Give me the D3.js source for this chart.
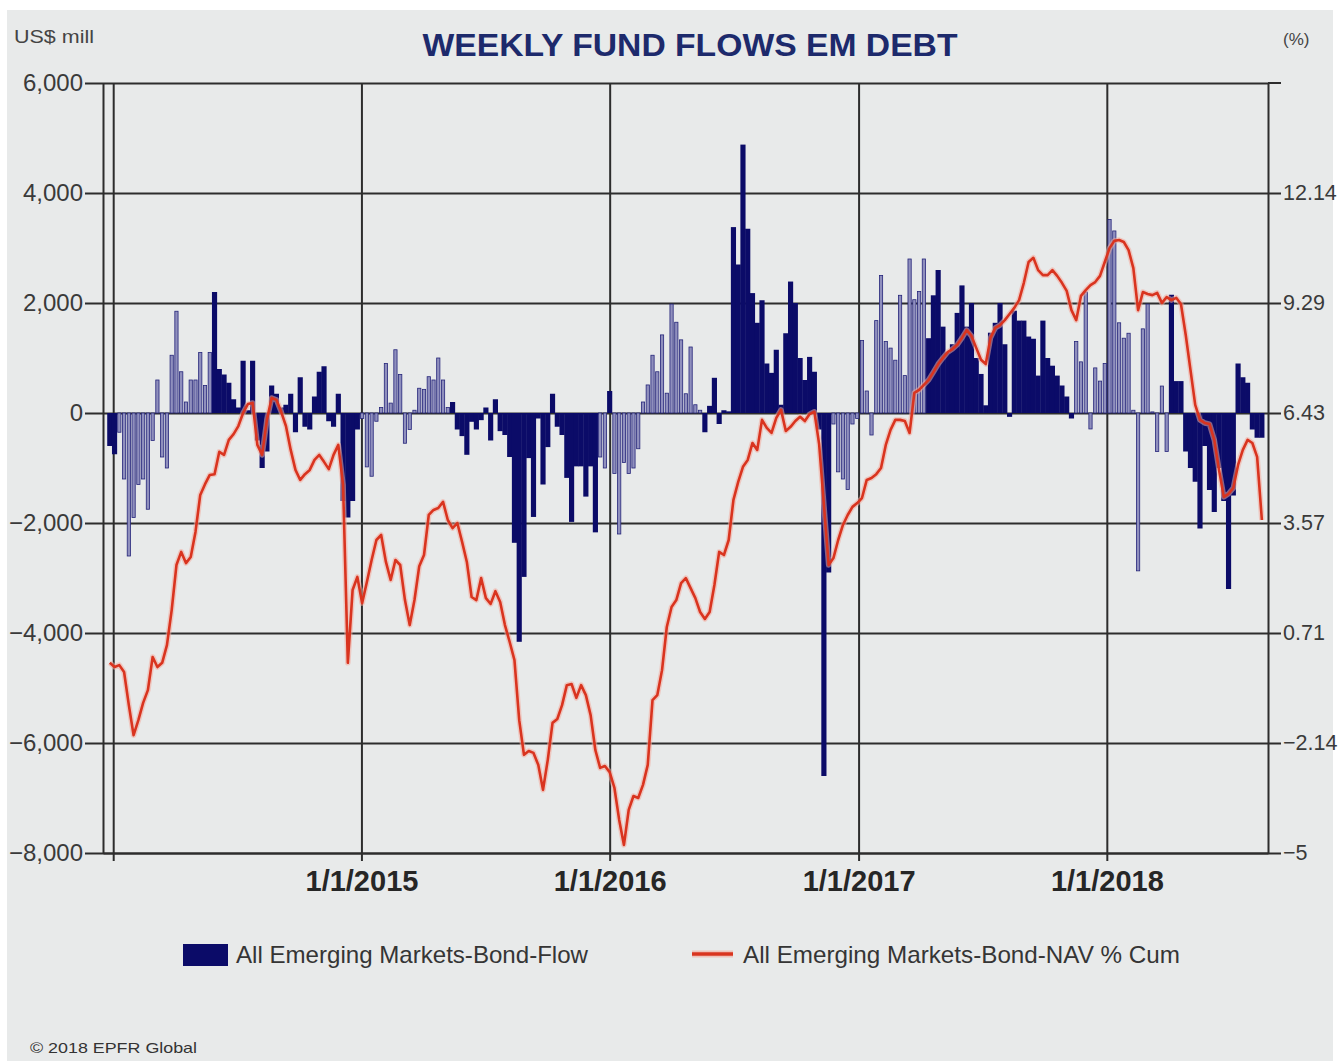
<!DOCTYPE html>
<html><head><meta charset="utf-8">
<script src="https://cdn.jsdelivr.net/npm/d3@7"></script>
<style>
html,body{margin:0;padding:0;background:#fff;}
svg{display:block;}
text{font-family:"Liberation Sans",Arial,sans-serif;}
</style></head>
<body>
<svg id="chart" width="1340" height="1061"></svg>
<script>
// ---------- DATA ----------
const startDate = "2013-12-27";           // first weekly observation
const flows = [  // US$ mill, weekly
 -600,-750,-350,-1200,-2600,-1900,-1300,-1200,-1750,-500,
 600,-800,-1000,1050,1850,750,200,600,600,1100,
 500,1100,2200,800,700,550,250,100,950,50,
 950,-500,-1000,-700,500,350,100,150,350,-350,
 650,-250,-300,300,750,850,-150,-250,350,-1600,
 -1900,-1600,-300,-100,
 -980,-1150,-150,100,900,180,1150,700,-550,-300,
 50,450,430,660,600,1000,600,100,200,-300,
 -420,-760,-160,-300,-130,100,-500,250,-330,-400,
 -800,-2360,-4160,-2980,-820,-1890,-100,-1300,-620,350,
 -250,-400,-1180,-1980,-970,-970,-1520,-970,-2170,-800,
 -1000,400,
 -1100,-2200,-900,-1100,-1000,-650,200,510,1050,750,
 1420,360,1980,1650,1330,350,1200,150,50,-350,
 130,640,-200,50,30,3380,2700,4880,3350,2180,
 1640,2050,900,730,1150,150,1450,2390,2000,1000,
 600,1020,750,-300,-6600,-2900,-200,-1070,-1200,-1390,
 -200,-100,
 1320,400,-400,1680,2500,1300,1180,960,2140,680,
 2800,2060,2210,2800,1360,2140,2600,1570,1100,1250,
 1820,2320,1570,2000,1000,710,140,1460,1640,2000,
 1250,-70,1860,1680,1680,1390,1350,680,1680,1000,
 860,680,500,300,-100,
 1300,930,2200,-290,820,580,900,3520,3310,1640,
 1360,1450,50,-2870,1530,1980,20,-700,490,-700,
 2150,580,580,-700,-1000,-1250,-2100,-600,-1400,-1800,
 -1000,-1600,-3200,-1500,900,650,550,-300,-450,-450
];
const nav = [  // NAV % cumulative, weekly
 -0.06,-0.17,-0.12,-0.30,-1.16,-1.94,-1.55,-1.10,-0.77,0.09,
 -0.17,-0.06,0.40,1.31,2.48,2.82,2.53,2.69,3.34,4.30,
 4.58,4.82,4.84,5.42,5.34,5.73,5.88,6.09,6.43,6.66,
 6.69,5.60,5.34,6.25,6.82,6.77,6.46,6.09,5.47,4.95,
 4.69,4.84,4.95,5.21,5.34,5.16,4.97,5.34,5.60,4.56,
 -0.06,1.83,2.17,1.49,2.04,2.61,3.13,3.26,2.56,2.09,
 2.61,2.48,1.57,0.92,1.57,2.45,2.74,3.78,3.91,3.96,
 4.12,3.65,3.44,3.57,3.08,2.56,1.65,1.57,2.14,1.62,
 1.47,1.80,1.52,0.92,0.48,0.01,-1.55,-2.45,-2.35,-2.40,
 -2.71,-3.36,-2.58,-1.62,-1.52,-1.16,-0.64,-0.61,-0.97,-0.64,
 -0.90,-1.42,-2.33,-2.79,-2.74,-2.90,-3.31,-4.14,-4.79,-3.88,
 -3.52,-3.57,-3.23,-2.71,-1.03,-0.90,-0.25,0.87,1.39,1.57,
 2.01,2.14,1.88,1.62,1.26,1.08,1.26,1.96,2.82,2.74,
 3.13,4.17,4.64,5.03,5.21,5.65,5.47,6.25,6.04,5.91,
 6.30,6.51,5.96,6.07,6.22,6.33,6.22,6.40,6.46,5.62,
 4.04,2.48,2.66,3.13,3.52,3.78,3.99,4.09,4.22,4.69,
 4.74,4.84,5.00,5.60,5.99,6.25,6.25,6.22,5.91,6.95,
 7.03,7.16,7.29,7.49,7.70,7.86,8.01,8.09,8.20,8.38,
 8.58,8.43,8.12,7.81,7.70,8.38,8.64,8.71,8.84,9.00,
 9.16,9.36,9.81,10.35,10.46,10.14,10.01,10.01,10.14,9.99,
 9.81,9.60,9.10,8.84,9.47,9.62,9.75,9.83,9.99,10.35,
 10.71,10.90,10.92,10.87,10.66,10.19,9.10,9.57,9.52,9.49,
 9.55,9.29,9.44,9.36,9.42,9.26,8.46,7.55,6.64,6.25,
 6.17,6.14,5.73,4.95,4.25,4.33,4.48,5.08,5.47,5.73,
 5.65,5.29,3.65
];
const leftTicks = [-8000,-6000,-4000,-2000,0,2000,4000,6000];
const rightTicks = [-5,-2.142857,0.714286,3.571429,6.428571,9.285714,12.142857];
const yearTicks = ["2014-01-01","2015-01-01","2016-01-01","2017-01-01","2018-01-01"];
const yearLabels = ["","1/1/2015","1/1/2016","1/1/2017","1/1/2018"];
const xDomain = ["2013-12-17","2018-08-26"];
const seriesNames = ["All Emerging Markets-Bond-Flow","All Emerging Markets-Bond-NAV % Cum"];
// weeks rendered in the paler (aliased) tone of the original image
const paleWeeks = [[2,21],[53,71],[103,104],[106,124],[152,171],[203,222]];

// ---------- CHART ----------
const NAVY = "#0b0b68", RED = "#d9341f", GRID = "#2d2d2d", BG = "#e8eaea";
const svg = d3.select("#chart");
svg.append("defs").append("clipPath").attr("id","panel")
  .append("rect").attr("x",7).attr("y",10).attr("width",1326).attr("height",1051);
const root = svg.append("g").attr("clip-path","url(#panel)");
root.append("rect").attr("x",7).attr("y",10).attr("width",1326).attr("height",1051).attr("fill",BG);

const L = 103, R = 1268, T = 83, B = 853;
const parse = d3.utcParse("%Y-%m-%d");
const t0 = parse(startDate);
const weeks = flows.map((v,i) => d3.utcDay.offset(t0, 7*i));
const x = d3.scaleUtc().domain(xDomain.map(parse)).range([L,R]);
const yL = d3.scaleLinear().domain([-8000,6000]).range([B,T]);
const yR = d3.scaleLinear().domain([-5,15]).range([B,T]);
const step = x(weeks[1]) - x(weeks[0]);
const isPale = i => paleWeeks.some(([a,b]) => i>=a && i<=b);

// gridlines
root.append("g").attr("transform",`translate(${L},0)`)
  .call(d3.axisLeft(yL).tickValues(leftTicks).tickSize(-(R-L)).tickFormat(""))
  .call(g=>g.select(".domain").remove())
  .call(g=>g.selectAll("line").attr("stroke",GRID).attr("stroke-width",2));
root.append("g").attr("transform",`translate(0,${B})`)
  .call(d3.axisBottom(x).tickValues(yearTicks.map(parse)).tickSize(-(B-T)).tickFormat(""))
  .call(g=>g.select(".domain").remove())
  .call(g=>g.selectAll("line").attr("stroke",GRID).attr("stroke-width",2));

// bars
const bars = root.append("g");
bars.selectAll("rect").data(flows).join("rect")
  .attr("x",(d,i)=> x(weeks[i]) - (isPale(i)? step*0.34 : step/2+0.2))
  .attr("width",(d,i)=> isPale(i)? step*0.68 : step+0.4)
  .attr("y",d=> Math.min(yL(d),yL(0)))
  .attr("height",d=> Math.abs(yL(d)-yL(0)))
  .attr("fill",(d,i)=> isPale(i)? "#8f8fbd" : NAVY)
  .attr("stroke",(d,i)=> isPale(i)? "#25257a" : "none")
  .attr("stroke-width",0.8);

// line
const line = d3.line().x((d,i)=>x(weeks[i])).y(d=>yR(d)).curve(d3.curveLinear);
root.append("path").datum(nav).attr("d",line).attr("fill","none")
  .attr("stroke","#f2a99c").attr("stroke-width",5.5).attr("opacity",0.55).attr("stroke-linejoin","round");
root.append("path").datum(nav).attr("d",line).attr("fill","none")
  .attr("stroke",RED).attr("stroke-width",2.6).attr("stroke-linejoin","round");

// axes
const styleAxis = g => {
  g.selectAll(".domain").attr("stroke",GRID).attr("stroke-width",2);
  g.selectAll(".tick line").attr("stroke",GRID).attr("stroke-width",2);
};
root.append("g").attr("transform",`translate(${L},0)`)
  .call(d3.axisLeft(yL).tickValues(leftTicks).tickSize(18).tickSizeOuter(0).tickPadding(2).tickFormat(d3.format(",")))
  .call(styleAxis)
  .call(g=>g.selectAll("text").attr("font-size",24).attr("fill","#3a3a3a").attr("font-family","Liberation Sans, Arial"));
// right axis drawn outside the clip so its labels stay whole
svg.append("g").attr("transform",`translate(${R},0)`)
  .call(d3.axisRight(yR).tickValues(rightTicks).tickSize(13).tickSizeOuter(0).tickPadding(2).tickFormat(d3.format(".2~f")))
  .call(styleAxis)
  .call(g=>g.selectAll("text").attr("font-size",21.5).attr("fill","#3a3a3a").attr("font-family","Liberation Sans, Arial"));
svg.append("line").attr("x1",R).attr("x2",R+13).attr("y1",yR(15)).attr("y2",yR(15)).attr("stroke",GRID).attr("stroke-width",2);
root.append("g").attr("transform",`translate(0,${B})`)
  .call(d3.axisBottom(x).tickValues(yearTicks.map(parse)).tickSize(8).tickSizeOuter(0).tickPadding(9)
      .tickFormat((d,i)=>yearLabels[i]))
  .call(styleAxis)
  .call(g=>g.selectAll("text").attr("font-size",29).attr("font-weight","bold").attr("fill","#262626").attr("font-family","Liberation Sans, Arial"));

// titles
root.append("text").attr("x",690).attr("y",56).attr("text-anchor","middle")
  .attr("font-size",31).attr("font-weight","bold").attr("fill","#1d2a6c")
  .attr("textLength",535).attr("lengthAdjust","spacingAndGlyphs")
  .text("WEEKLY FUND FLOWS EM DEBT");
root.append("text").attr("x",14).attr("y",43).attr("font-size",18).attr("fill","#444")
  .attr("textLength",80).attr("lengthAdjust","spacingAndGlyphs").text("US$ mill");
root.append("text").attr("x",1283).attr("y",45).attr("font-size",17).attr("fill","#444").text("(%)");

// legend
const lg = root.append("g");
lg.append("rect").attr("x",183).attr("y",944).attr("width",45).attr("height",22).attr("fill",NAVY);
lg.append("text").attr("x",236).attr("y",963).attr("font-size",24).attr("fill","#353535")
  .attr("textLength",352).attr("lengthAdjust","spacingAndGlyphs").text(seriesNames[0]);
lg.append("line").attr("x1",692).attr("x2",733).attr("y1",954).attr("y2",954)
  .attr("stroke","#f2a99c").attr("stroke-width",7).attr("opacity",0.6);
lg.append("line").attr("x1",692).attr("x2",733).attr("y1",954).attr("y2",954)
  .attr("stroke",RED).attr("stroke-width",3.5);
lg.append("text").attr("x",743).attr("y",963).attr("font-size",24).attr("fill","#353535")
  .attr("textLength",437).attr("lengthAdjust","spacingAndGlyphs").text(seriesNames[1]);

root.append("text").attr("x",30).attr("y",1053).attr("font-size",15).attr("fill","#333")
  .attr("textLength",167).attr("lengthAdjust","spacingAndGlyphs").text("© 2018 EPFR Global");
</script>
</body></html>
